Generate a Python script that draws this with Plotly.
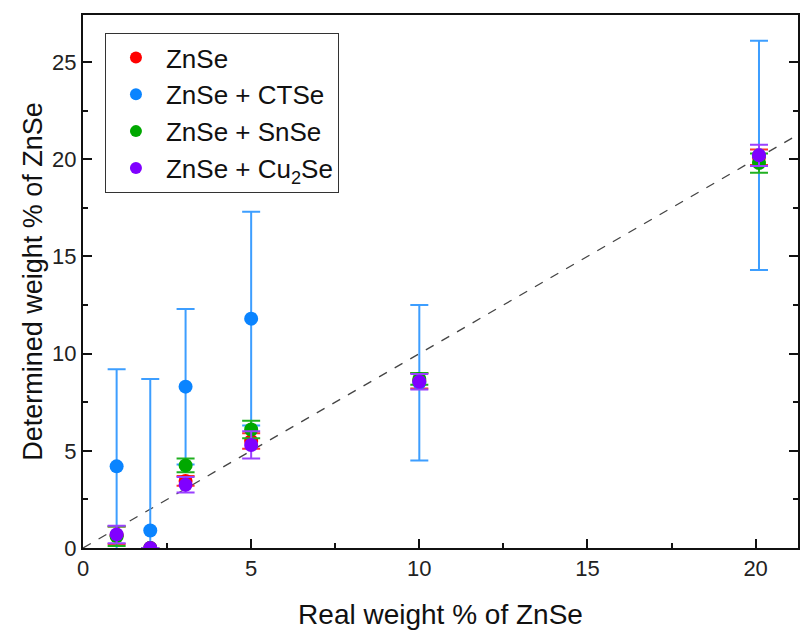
import plotly.graph_objects as go

# Data
x_vals = [1.0, 2.0, 3.05, 5.0, 10.0, 20.1]

znse_y = [0.65, 0.0, 3.45, 5.5, 8.6, 20.1]
znse_err = [0.45, 0.0, 0.25, 0.4, 0.4, 0.4]

ctse_y = [4.2, 0.9, 8.3, 11.8, 8.5, 20.2]
ctse_err = [5.0, 7.8, 4.0, 5.5, 4.0, 5.9]

snse_y = [0.6, 0.0, 4.25, 6.1, 8.7, 19.8]
snse_err = [0.5, 0.0, 0.35, 0.45, 0.3, 0.5]

cu2se_y = [0.7, 0.0, 3.25, 5.3, 8.55, 20.2]
cu2se_err = [0.45, 0.0, 0.4, 0.7, 0.4, 0.55]

names = ["ZnSe", "ZnSe + CTSe", "ZnSe + SnSe", "ZnSe + Cu<sub>2</sub>Se"]
colors = ["#FF0000", "#0A84FF", "#00A800", "#8000FF"]
bar_colors = ["#FF3030", "#3D9EFF", "#20B020", "#9A40FF"]

x_range = [0, 21.26]
y_range = [0, 27.42]
ref_line = [0, 21.26]

FONT = "Arial, 'Liberation Sans', sans-serif"

fig = go.Figure()

fig.add_trace(go.Scatter(x=ref_line, y=ref_line, mode="lines",
                         line=dict(color="#444444", width=1.3, dash="dash"),
                         showlegend=False, hoverinfo="skip"))

for ys, errs, name, c, bc in zip([znse_y, ctse_y, snse_y, cu2se_y],
                                 [znse_err, ctse_err, snse_err, cu2se_err],
                                 names, colors, bar_colors):
    fig.add_trace(go.Scatter(
        x=x_vals, y=ys, mode="markers", name=name,
        marker=dict(color=c, size=14, line=dict(width=0)),
        error_y=dict(type="data", array=errs, visible=True,
                     color=bc, thickness=2, width=9),
    ))

fig.update_layout(
    width=800, height=630,
    margin=dict(l=83, r=0, t=15, b=82),
    paper_bgcolor="white", plot_bgcolor="white",
    font=dict(family=FONT, color="#111111"),
    showlegend=True,
    legend=dict(x=0.0307, y=0.966, xanchor="left", yanchor="top",
                bordercolor="#333333", borderwidth=1, bgcolor="white",
                font=dict(size=26, family=FONT, color="#111111"),
                itemwidth=50, itemsizing="constant"),
)

fig.update_xaxes(range=x_range, showgrid=False, zeroline=False,
                 showline=True, linecolor="#111111", linewidth=2, mirror=True,
                 ticks="inside", ticklen=9, tickwidth=1.5, tickcolor="#111111",
                 tick0=0, dtick=5,
                 minor=dict(ticks="inside", ticklen=5, tickwidth=1.5, tickcolor="#111111", dtick=2.5),
                 tickfont=dict(size=22, family=FONT, color="#222222"),
                 title=dict(text="Real weight % of ZnSe", font=dict(size=28, family=FONT, color="#111111"), standoff=26))

fig.update_yaxes(range=y_range, showgrid=False, zeroline=False,
                 showline=True, linecolor="#111111", linewidth=2, mirror="ticks",
                 ticks="inside", ticklen=9, tickwidth=1.5, tickcolor="#111111",
                 tick0=0, dtick=5,
                 minor=dict(ticks="inside", ticklen=5, tickwidth=1.5, tickcolor="#111111", dtick=2.5),
                 tickfont=dict(size=22, family=FONT, color="#222222"),
                 title=dict(text="Determined weight % of ZnSe", font=dict(size=27, family=FONT, color="#111111"), standoff=2))

fig.write_html("out.html")
